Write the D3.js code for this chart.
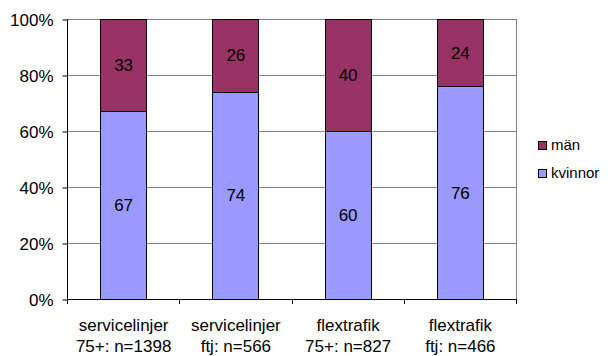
<!DOCTYPE html>
<html>
<head>
<meta charset="utf-8">
<script src="https://cdn.jsdelivr.net/npm/d3@7"></script>
<style>
  body { margin: 0; background: #fff; }
  svg text { font-family: "Liberation Sans", Arial, sans-serif; fill: #000; }
</style>
</head>
<body>
<div id="chart"></div>
<script>
// data
const categories = [
  ["servicelinjer", "75+: n=1398"],
  ["servicelinjer", "ftj: n=566"],
  ["flextrafik", "75+: n=827"],
  ["flextrafik", "ftj: n=466"]
];
const kvinnor = [67, 74, 60, 76];
const man = [33, 26, 40, 24];
const yTicks = [0, 20, 40, 60, 80, 100];
const seriesNames = ["män", "kvinnor"];
const seriesColors = ["#993366", "#9999FF"];

const width = 611, height = 356;
const plotL = 67, plotR = 516, plotT = 19, plotB = 299;

const svg = d3.select('#chart').append('svg')
  .attr('width', width)
  .attr('height', height);

const x = d3.scaleBand()
  .domain(d3.range(categories.length))
  .range([plotL, plotR])
  .paddingInner(0.59)
  .paddingOuter(0.295);

const y = d3.scaleLinear().domain([0, 100]).range([plotB, plotT]);

// gridlines
svg.append('g')
  .selectAll('line')
  .data(yTicks.filter(d => d > 0))
  .join('line')
  .attr('x1', plotL).attr('x2', plotR)
  .attr('y1', d => y(d) + 0.5).attr('y2', d => y(d) + 0.5)
  .attr('stroke', '#808080');

// right edge of plot area
svg.append('line')
  .attr('x1', plotR + 0.5).attr('x2', plotR + 0.5)
  .attr('y1', plotT).attr('y2', plotB)
  .attr('stroke', '#808080');

// stacked bars
const stack = categories.map((c, i) => ({ i, k: kvinnor[i], m: man[i] }));

const bars = svg.append('g');
bars.selectAll('rect.k')
  .data(stack)
  .join('rect')
  .attr('class', 'k')
  .attr('x', d => Math.round(x(d.i)) + 0.5)
  .attr('width', Math.round(x.bandwidth()))
  .attr('y', d => Math.round(y(d.k)) + 0.5)
  .attr('height', d => Math.round(y(0) - y(d.k)))
  .attr('fill', seriesColors[1])
  .attr('stroke', '#000').attr('stroke-width', 1);

bars.selectAll('rect.m')
  .data(stack)
  .join('rect')
  .attr('class', 'm')
  .attr('x', d => Math.round(x(d.i)) + 0.5)
  .attr('width', Math.round(x.bandwidth()))
  .attr('y', d => Math.round(y(d.k + d.m)) + 0.5)
  .attr('height', d => Math.round(y(d.k)) - Math.round(y(d.k + d.m)))
  .attr('fill', seriesColors[0])
  .attr('stroke', '#000').attr('stroke-width', 1);

// value labels
bars.selectAll('text.kl')
  .data(stack)
  .join('text')
  .attr('x', d => x(d.i) + x.bandwidth() / 2 + 0.5)
  .attr('y', d => y(d.k / 2) + 6)
  .attr('text-anchor', 'middle')
  .attr('font-size', 17)
  .text(d => d.k);

bars.selectAll('text.ml')
  .data(stack)
  .join('text')
  .attr('x', d => x(d.i) + x.bandwidth() / 2 + 0.5)
  .attr('y', d => y(d.k + d.m / 2) + 6)
  .attr('text-anchor', 'middle')
  .attr('font-size', 17)
  .text(d => d.m);

// y axis
const yAxis = svg.append('g')
  .attr('transform', `translate(${plotL + 0.5},0.5)`)
  .call(d3.axisLeft(y).tickValues(yTicks).tickSize(5).tickFormat(d => d + '%'));
yAxis.select('.domain').attr('stroke', '#000').attr('d', `M0,${plotT}V${plotB}`);
yAxis.selectAll('.tick line').attr('stroke', '#000');
yAxis.selectAll('.tick text')
  .attr('x', -14)
  .attr('dy', '0.36em')
  .attr('font-size', 17)
  .attr('font-family', '"Liberation Sans", Arial, sans-serif')
  .attr('fill', '#000');

// x axis
const xEdges = d3.range(categories.length + 1).map(i => plotL + i * (plotR - plotL) / categories.length);
svg.append('line')
  .attr('x1', plotL).attr('x2', plotR + 1)
  .attr('y1', plotB + 0.5).attr('y2', plotB + 0.5)
  .attr('stroke', '#000');
svg.append('g')
  .selectAll('line')
  .data(xEdges)
  .join('line')
  .attr('x1', d => Math.round(d) + 0.5).attr('x2', d => Math.round(d) + 0.5)
  .attr('y1', plotB).attr('y2', plotB + 5)
  .attr('stroke', '#000');

const xl = svg.append('g')
  .selectAll('text')
  .data(categories)
  .join('text')
  .attr('text-anchor', 'middle')
  .attr('font-size', 17);
xl.append('tspan').attr('x', (d, i) => x(i) + x.bandwidth() / 2 + 0.5).attr('y', 331).text(d => d[0]);
xl.append('tspan').attr('x', (d, i) => x(i) + x.bandwidth() / 2 + 0.5).attr('y', 352).text(d => d[1]);

// legend
const legend = svg.append('g')
  .selectAll('g')
  .data(seriesNames)
  .join('g')
  .attr('transform', (d, i) => `translate(538,${141 + i * 28})`);
legend.append('rect')
  .attr('x', 0.5).attr('y', 0.5)
  .attr('width', 8).attr('height', 8)
  .attr('fill', (d, i) => seriesColors[i])
  .attr('stroke', '#000');
legend.append('text')
  .attr('x', 13).attr('y', 9)
  .attr('font-size', 15)
  .text(d => d);
</script>
</body>
</html>
